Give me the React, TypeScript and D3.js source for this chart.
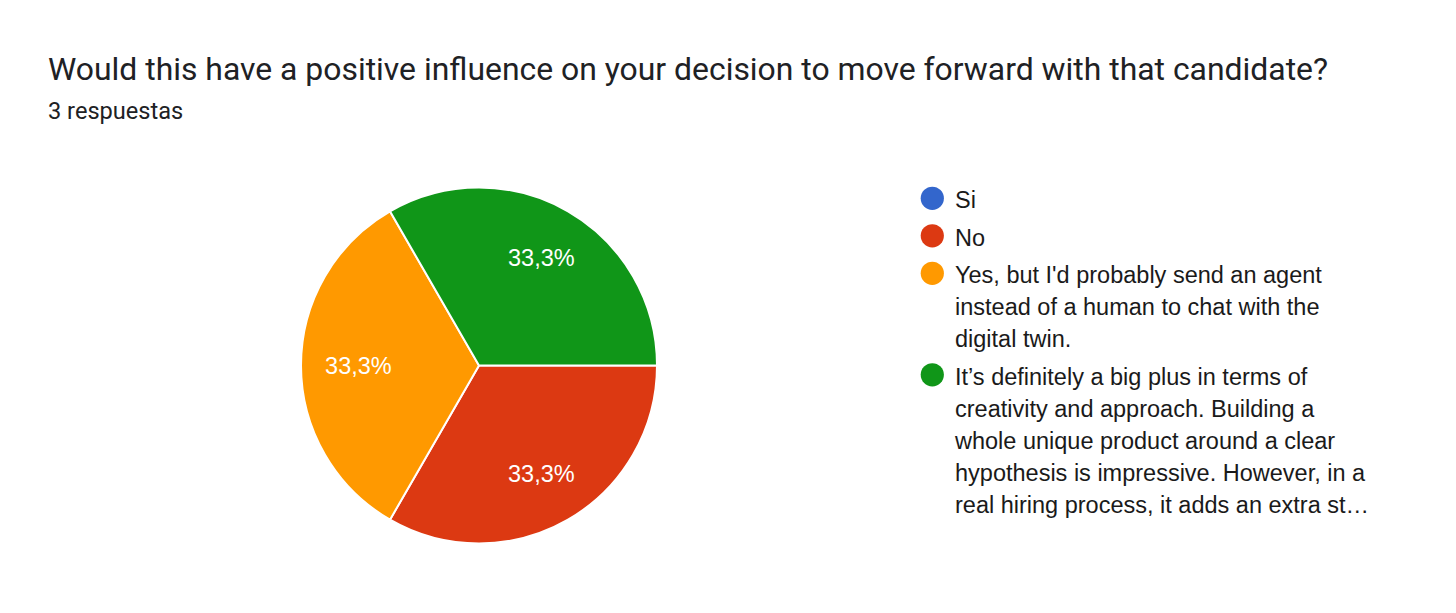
import { useEffect, useRef } from 'react'
import * as d3 from 'd3'

const title = 'Would this have a positive influence on your decision to move forward with that candidate?'
const subtitle = '3 respuestas'

const categories = [
  'Si',
  'No',
  "Yes, but I'd probably send an agent instead of a human to chat with the digital twin.",
  'It’s definitely a big plus in terms of creativity and approach. Building a whole unique product around a clear hypothesis is impressive. However, in a real hiring process, it adds an extra st…',
]
const counts = [0, 1, 1, 1]
const colors = ['#3366cc', '#dc3912', '#ff9900', '#109618']

// legend labels as they are wrapped in the picture
const legendLines = [
  ['Si'],
  ['No'],
  ["Yes, but I'd probably send an agent", 'instead of a human to chat with the', 'digital twin.'],
  [
    'It’s definitely a big plus in terms of',
    'creativity and approach. Building a',
    'whole unique product around a clear',
    'hypothesis is impressive. However, in a',
    'real hiring process, it adds an extra st…',
  ],
]

const W = 1456
const H = 613

export default function App() {
  const svgRef = useRef<SVGSVGElement>(null)

  useEffect(() => {
    if (!svgRef.current) return
    document.body.style.margin = '0'
    const svg = d3.select(svgRef.current)
    svg.selectAll('*').remove()

    svg.append('rect').attr('width', W).attr('height', H).attr('fill', '#ffffff')

    // Header
    svg.append('text')
      .attr('x', 48)
      .attr('y', 80)
      .style('font-family', 'Roboto, sans-serif')
      .style('font-size', '31.9px')
      .style('fill', '#202124')
      .text(title)

    svg.append('text')
      .attr('x', 48)
      .attr('y', 119)
      .style('font-family', 'Roboto, sans-serif')
      .style('font-size', '23.6px')
      .style('fill', '#202124')
      .text(subtitle)

    // Pie
    const cx = 479
    const cy = 365.5
    const radius = 178
    const total = d3.sum(counts)

    const pie = d3.pie<number>()
      .sort(null)
      .value(d => d)
      .startAngle(Math.PI / 2)
      .endAngle(Math.PI / 2 + Math.PI * 2)

    const arc = d3.arc<d3.PieArcDatum<number>>()
      .innerRadius(0)
      .outerRadius(radius)

    const labelArc = d3.arc<d3.PieArcDatum<number>>()
      .innerRadius(radius * 0.7)
      .outerRadius(radius * 0.7)

    const arcs = pie(counts).map((d, i) => ({ d, i })).filter(a => a.d.value > 0)

    const g = svg.append('g').attr('transform', `translate(${cx}, ${cy})`)

    g.selectAll('path')
      .data(arcs)
      .join('path')
      .attr('d', a => arc(a.d) as string)
      .attr('fill', a => colors[a.i])
      .attr('stroke', '#ffffff')
      .attr('stroke-width', 2)

    g.selectAll('text')
      .data(arcs)
      .join('text')
      .attr('transform', a => {
        const [x, y] = labelArc.centroid(a.d)
        // labels on the far left sit a little closer to the centre
        return `translate(${x < -radius * 0.5 ? x + 4 : x}, ${y})`
      })
      .attr('text-anchor', 'middle')
      .attr('dy', '0.35em')
      .style('font-family', '"Liberation Sans", Arial, sans-serif')
      .style('font-size', '23.5px')
      .style('fill', '#ffffff')
      .text(a => (a.d.value / total * 100).toFixed(1).replace('.', ',') + '%')

    // Legend
    const legend = svg.append('g').attr('class', 'legend')
    const lineHeight = 32
    let baseline = 208
    categories.forEach((cat, i) => {
      const item = legend.append('g').attr('data-name', cat)
      item.append('circle')
        .attr('cx', 932.3)
        .attr('cy', baseline - 9.7)
        .attr('r', 11.6)
        .attr('fill', colors[i])

      const text = item.append('text')
        .attr('x', 955)
        .attr('y', baseline)
        .style('font-family', '"Liberation Sans", Arial, sans-serif')
        .style('font-size', '23.5px')
        .style('fill', '#1a1a1a')

      legendLines[i].forEach((line, k) => {
        text.append('tspan')
          .attr('x', 955)
          .attr('y', baseline + k * lineHeight)
          .text(line)
      })

      baseline += (legendLines[i].length - 1) * lineHeight + 37.5
    })
  }, [])

  return (
    <div style={{ width: W, height: H }}>
      <svg ref={svgRef} width={W} height={H} style={{ display: 'block' }} />
    </div>
  )
}
